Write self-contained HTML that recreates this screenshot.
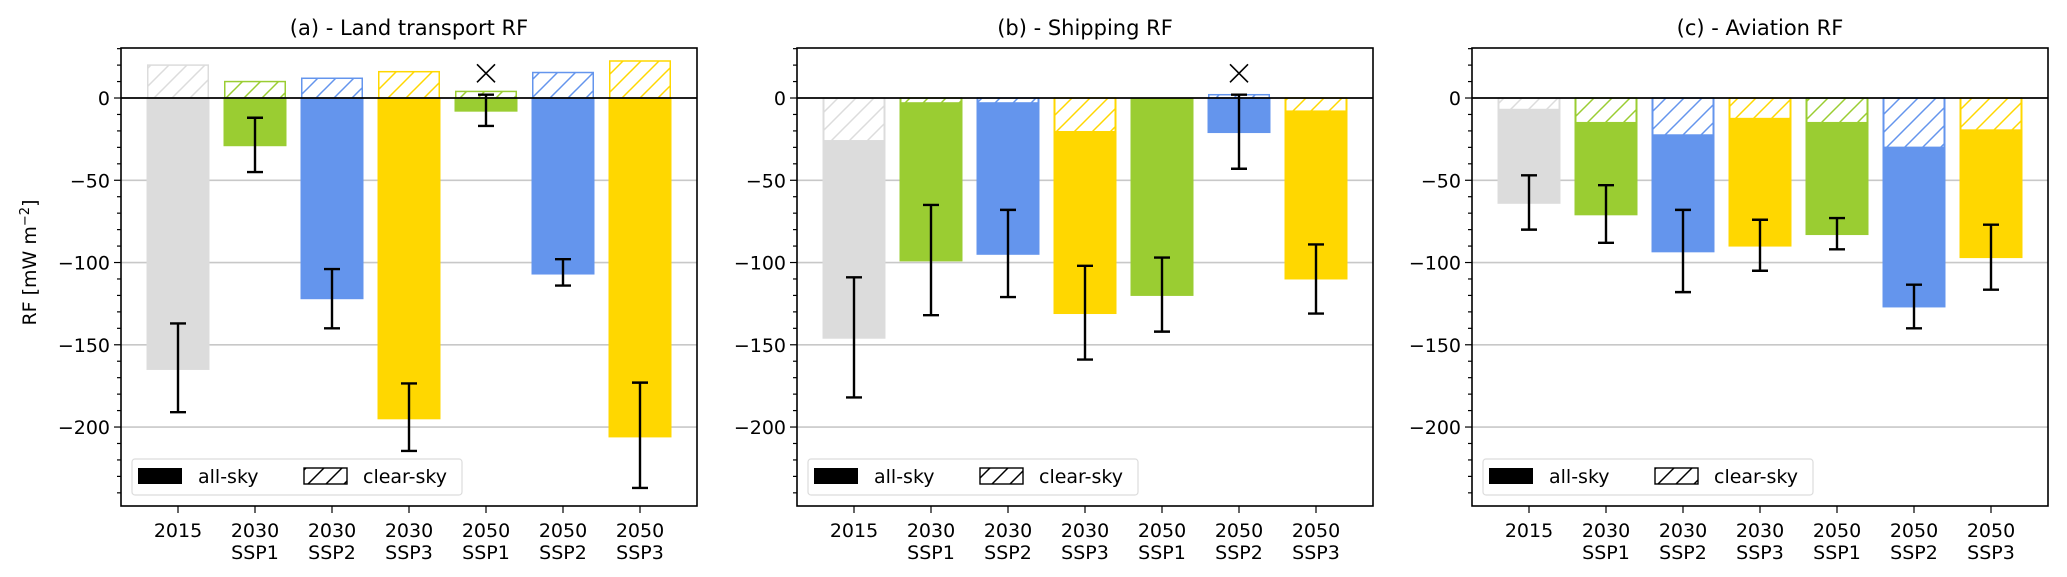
<!DOCTYPE html>
<html><head><meta charset="utf-8">
<style>
html,body{margin:0;padding:0;background:#fff;}
svg{display:block;font-family:"DejaVu Sans","Liberation Sans",sans-serif;}
</style></head>
<body>
<svg id="chart" width="2067" height="577" viewBox="0 0 2067 577" xmlns="http://www.w3.org/2000/svg">
<defs id="defs"></defs>
</svg>
<script>
const categories = ["2015", "2030\nSSP1", "2030\nSSP2", "2030\nSSP3", "2050\nSSP1", "2050\nSSP2", "2050\nSSP3"];
const barColors = ["#dcdcdc", "#9acd32", "#6495ed", "#ffd700", "#9acd32", "#6495ed", "#ffd700"];
const panelTitles = ["(a) - Land transport RF", "(b) - Shipping RF", "(c) - Aviation RF"];
const yTicks = [0, -50, -100, -150, -200];
const gridValues = [-50, -100, -150, -200];

const landAllSky = [-165, -29, -122, -195, -8, -107, -206];
const landClearSky = [20, 10, 12, 16, 4, 15.5, 22.5];
const landErrHigh = [-137, -12, -104, -173.5, 2, -98, -173];
const landErrLow = [-191, -45, -140, -214.5, -17, -114, -237];
const landMarkers = [null, null, null, null, 15, null, null];

const shipAllSky = [-146, -99, -95, -131, -120, -21, -110];
const shipClearSky = [-26, -3, -3, -20.5, 0, 2, -8];
const shipErrHigh = [-109, -65, -68, -102, -97, 2, -89];
const shipErrLow = [-182, -132, -121, -159, -142, -43, -131];
const shipMarkers = [null, null, null, null, null, 15, null];

const aviAllSky = [-64, -71, -93.5, -90, -83, -127, -97];
const aviClearSky = [-7, -15, -22.5, -12.5, -15, -30, -19.5];
const aviErrHigh = [-47, -53, -68, -74, -73, -113.5, -77];
const aviErrLow = [-80, -88, -118, -105, -92, -140, -116.5];
const aviMarkers = [null, null, null, null, null, null, null];

const panelsData = [
  [landAllSky, landClearSky, landErrHigh, landErrLow, landMarkers],
  [shipAllSky, shipClearSky, shipErrHigh, shipErrLow, shipMarkers],
  [aviAllSky, aviClearSky, aviErrHigh, aviErrLow, aviMarkers]
];

const NS = "http://www.w3.org/2000/svg";
const svg = document.getElementById("chart");
const defs = document.getElementById("defs");
const axLefts = [121, 797, 1472];
const axW = 576, axTop = 48, axBottom = 506;
const yMax = 30.4, yMin = -248;
function yScale(v){ return axTop + (yMax - v) / (yMax - yMin) * (axBottom - axTop); }
function xScale(p, i){ return axLefts[p] + 57 + i * 77; }
const barW = 62;

function mk(tag, attrs, parent){
  const e = document.createElementNS(NS, tag);
  for (const k in attrs) e.setAttribute(k, attrs[k]);
  (parent || svg).appendChild(e);
  return e;
}

const uniq = [...new Set(barColors.concat(["#000000"]))];
uniq.forEach(c => {
  const p = mk("pattern", {id: "h" + c.slice(1), patternUnits: "userSpaceOnUse", width: 18, height: 18}, defs);
  mk("rect", {x: 0, y: 0, width: 18, height: 18, fill: "#fff"}, p);
  mk("path", {d: "M-4.5,4.5 L4.5,-4.5 M0,18 L18,0 M13.5,22.5 L22.5,13.5", stroke: c, "stroke-width": 1.5}, p);
});

panelsData.forEach((pd, p) => {
  const [allSky, clearSky, eHi, eLo, markers] = pd;
  const L = axLefts[p];
  const g = mk("g", {});
  
  

  const t = mk("text", {x: L + axW / 2, y: 35, "text-anchor": "middle", "font-size": 21, fill: "#000"}, g);
  t.textContent = panelTitles[p];
  
  

  gridValues.forEach(v => {
    const gl = mk("line", {x1: L, x2: L + axW, y1: yScale(v), y2: yScale(v), stroke: "#c8c8c8", "stroke-width": 1.6}, g);
    
    
  });

  allSky.forEach((v, i) => {
    const cx = xScale(p, i);
    const y0 = yScale(0), y1 = yScale(v);
    const r = mk("rect", {x: cx - barW / 2, y: Math.min(y0, y1), width: barW, height: Math.abs(y1 - y0), fill: barColors[i], stroke: barColors[i], "stroke-width": 1}, g);
    
    
  });
  clearSky.forEach((v, i) => {
    if (v === 0) return;
    const cx = xScale(p, i);
    const y0 = yScale(0), y1 = yScale(v);
    const r = mk("rect", {x: cx - barW / 2 + 0.75, y: Math.min(y0, y1), width: barW - 1.5, height: Math.abs(y1 - y0), fill: "url(#h" + barColors[i].slice(1) + ")", stroke: barColors[i], "stroke-width": 1.5}, g);
    
    
  });

  const z = mk("line", {x1: L, x2: L + axW, y1: yScale(0), y2: yScale(0), stroke: "#000", "stroke-width": 1.8}, g);
  
  

  eHi.forEach((hi, i) => {
    const cx = xScale(p, i), lo = eLo[i];
    const eb = mk("path", {d: `M${cx},${yScale(hi)} L${cx},${yScale(lo)} M${cx-8},${yScale(hi)} L${cx+8},${yScale(hi)} M${cx-8},${yScale(lo)} L${cx+8},${yScale(lo)}`, stroke: "#000", "stroke-width": 2.4, fill: "none"}, g);
    
    
  });

  markers.forEach((m, i) => {
    if (m === null) return;
    const cx = xScale(p, i), cy = yScale(m);
    const mm = mk("path", {d: `M${cx-9},${cy-9} L${cx+9},${cy+9} M${cx-9},${cy+9} L${cx+9},${cy-9}`, stroke: "#000", "stroke-width": 1.6}, g);
    
    
  });

  const fr = mk("rect", {x: L, y: axTop, width: axW, height: axBottom - axTop, fill: "none", stroke: "#000", "stroke-width": 1.6}, g);
  
  

  for (let v = 30; v >= -240; v -= 10) {
    const major = v % 50 === 0;
    const tk = mk("line", {x1: L - (major ? 7 : 4), x2: L, y1: yScale(v), y2: yScale(v), stroke: "#000", "stroke-width": 1.2}, g);
    
    
  }
  yTicks.forEach(v => {
    const tl = mk("text", {x: L - 11, y: yScale(v) + 7, "text-anchor": "end", "font-size": 19, fill: "#000"}, g);
    tl.textContent = v < 0 ? "\u2212" + Math.abs(v) : String(v);
    
    
  });

  categories.forEach((c, i) => {
    const cx = xScale(p, i);
    const tk = mk("line", {x1: cx, x2: cx, y1: axBottom, y2: axBottom + 7, stroke: "#000", "stroke-width": 1.2}, g);
    
    
    c.split("\n").forEach((line, k) => {
      const tl = mk("text", {x: cx, y: 537 + k * 22, "text-anchor": "middle", "font-size": 19, fill: "#000"}, g);
      tl.textContent = line;
      
      
    });
  });

  const lg = mk("g", {}, g);
  
  
  mk("rect", {x: L + 11, y: 459, width: 330, height: 36, rx: 3, fill: "#fff", "fill-opacity": 0.85, stroke: "#dcdcdc", "stroke-width": 1.2}, lg);
  const p1 = mk("rect", {x: L + 17, y: 468, width: 44, height: 16, fill: "#000"}, lg);
  
  
  const t1 = mk("text", {x: L + 77, y: 483, "font-size": 19, fill: "#000"}, lg);
  t1.textContent = "all-sky";
  
  
  const p2 = mk("rect", {x: L + 183, y: 468, width: 43, height: 16, fill: "url(#h000000)", stroke: "#000", "stroke-width": 1.4}, lg);
  
  
  const t2 = mk("text", {x: L + 242, y: 483, "font-size": 19, fill: "#000"}, lg);
  t2.textContent = "clear-sky";
  
  
});

const yt = mk("text", {x: 0, y: 0, "font-size": 19, "text-anchor": "middle", transform: `translate(36,${yScale(-100)}) rotate(-90)`, fill: "#000"});
yt.textContent = "RF [mW m";
const sup = document.createElementNS(NS, "tspan");
sup.setAttribute("dy", "-7"); sup.setAttribute("font-size", "13");
sup.textContent = "\u22122";
yt.appendChild(sup);
const cl = document.createElementNS(NS, "tspan");
cl.setAttribute("dy", "7");
cl.textContent = "]";
yt.appendChild(cl);


</script>
</body></html>
